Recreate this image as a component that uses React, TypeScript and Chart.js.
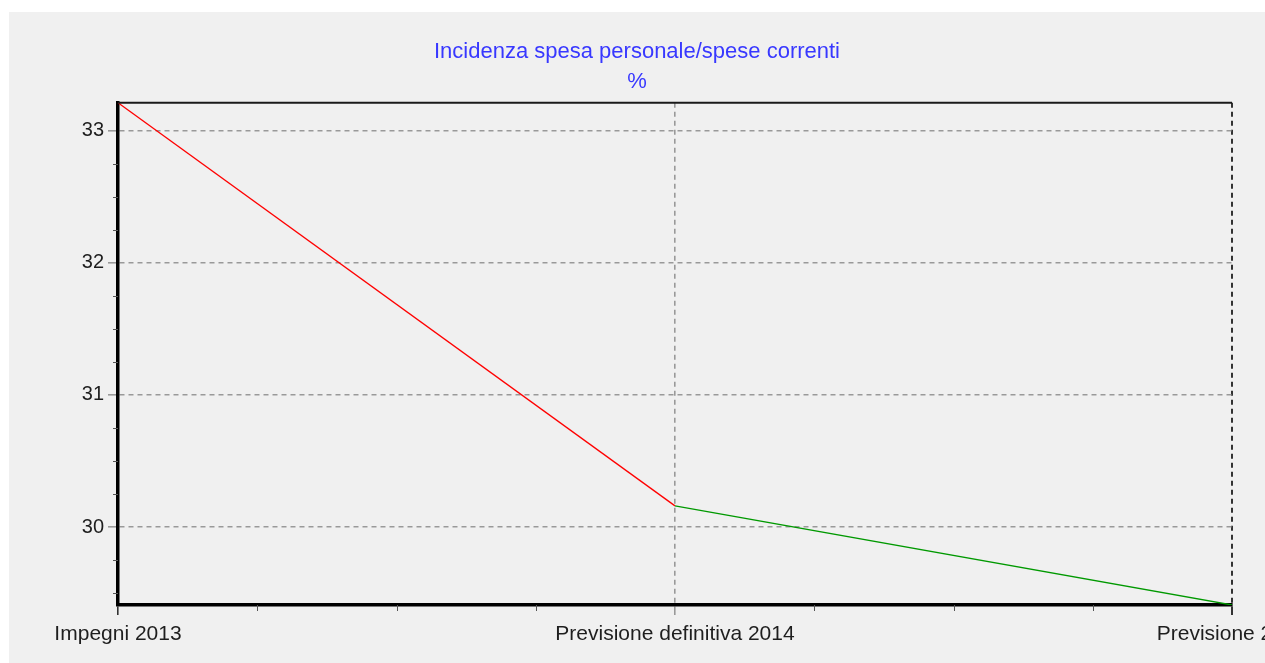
import React, { useEffect, useRef } from "react";
import { Chart, registerables } from "chart.js";

Chart.register(...registerables);

// ---- data ----
const CATEGORIES = ["Impegni 2013", "Previsione definitiva 2014", "Previsione 2015"];
const VALUES = [33.21, 30.16, 29.41];
const SEGMENT_COLORS = ["#ff0000", "#009900"];
const Y_MIN = 29.41;
const Y_MAX = 33.21;
const Y_STEP = 1;
const TITLE_LINES = ["Incidenza spesa personale/spese correnti", "%"];
const MINOR_DIVISIONS = 4;

const W = 1256;
const H = 651;
const FONT = "'Liberation Sans', Arial, sans-serif";

const framePlugin = {
  id: "frame",
  afterDraw(chart: any) {
    const { ctx, chartArea: a, scales } = chart;
    const xs = scales.x;
    const ys = scales.y;
    ctx.save();
    ctx.strokeStyle = "#555";
    ctx.lineWidth = 1;
    // y minor ticks
    const lo = Math.ceil((Y_MIN / Y_STEP) * MINOR_DIVISIONS);
    const hi = Math.floor((Y_MAX / Y_STEP) * MINOR_DIVISIONS);
    for (let k = lo; k <= hi; k++) {
      if (k % MINOR_DIVISIONS === 0) continue;
      const py = Math.round(ys.getPixelForValue((k / MINOR_DIVISIONS) * Y_STEP)) + 0.5;
      ctx.beginPath();
      ctx.moveTo(a.left - 5, py);
      ctx.lineTo(a.left, py);
      ctx.stroke();
    }
    // x minor ticks
    for (let i = 0; i < CATEGORIES.length - 1; i++) {
      for (let k = 1; k < MINOR_DIVISIONS; k++) {
        const px = Math.round(xs.getPixelForValue(i + k / MINOR_DIVISIONS)) + 0.5;
        ctx.beginPath();
        ctx.moveTo(px, a.bottom);
        ctx.lineTo(px, a.bottom + 6);
        ctx.stroke();
      }
    }
    // top frame line
    ctx.strokeStyle = "#1a1a1a";
    ctx.lineWidth = 2;
    ctx.beginPath();
    ctx.moveTo(a.left, a.top);
    ctx.lineTo(a.right, a.top);
    ctx.stroke();
    ctx.restore();
  },
};

export default function App() {
  const ref = useRef<HTMLCanvasElement | null>(null);

  useEffect(() => {
    if (!ref.current) return;
    const last = CATEGORIES.length - 1;
    const chart = new Chart(ref.current, {
      type: "line",
      data: {
        labels: CATEGORIES,
        datasets: [
          {
            data: VALUES,
            borderColor: SEGMENT_COLORS[0],
            borderWidth: 1.3,
            pointRadius: 0,
            tension: 0,
            fill: false,
            segment: {
              borderColor: (c: any) => SEGMENT_COLORS[c.p0DataIndex],
            },
          },
        ],
      },
      options: {
        responsive: false,
        animation: false,
        events: [],
        layout: { padding: 0 },
        plugins: {
          legend: { display: false },
          tooltip: { enabled: false },
          title: {
            display: true,
            text: TITLE_LINES,
            color: "#3838ff",
            font: { family: FONT, size: 22, weight: "normal", lineHeight: 1.36 },
            padding: { top: 25, bottom: 6 },
          },
        },
        scales: {
          x: {
            type: "category",
            offset: false,
            afterFit: (s: any) => {
              s.height = 58;
              s.paddingLeft = 0;
              s.paddingRight = 33;
            },
            grid: {
              display: true,
              drawOnChartArea: true,
              drawTicks: true,
              tickLength: 10,
              color: (c: any) => (c.index === last || c.index === 0 ? "#333333" : "#999999"),
              tickColor: (c: any) => (c.index === last || c.index === 0 ? "#333333" : "#999999"),
              lineWidth: (c: any) => (c.index === last ? 2 : 1.6),
            },
            border: { display: true, color: "#000000", width: 3.5, dash: [5, 4] },
            ticks: {
              autoSkip: false,
              maxRotation: 0,
              minRotation: 0,
              padding: 7,
              color: "#1e1e1e",
              font: { family: FONT, size: 21 },
            },
          },
          y: {
            type: "linear",
            min: Y_MIN,
            max: Y_MAX,
            afterBuildTicks: (s: any) => {
              s.ticks = s.ticks.filter((t: any) => Math.abs(t.value - Math.round(t.value)) < 1e-9);
            },
            afterFit: (s: any) => {
              s.width = 109;
              s.paddingTop = 0;
              s.paddingBottom = 0;
            },
            grid: {
              display: true,
              color: "#999999",
              tickColor: "#999999",
              lineWidth: 1.6,
              tickLength: 10,
            },
            border: { display: true, color: "#000000", width: 3.5, dash: [5, 4] },
            ticks: {
              stepSize: Y_STEP,
              padding: 4,
              color: "#1e1e1e",
              font: { family: FONT, size: 20 },
              callback: (v: any) => String(Math.round(Number(v))),
            },
          },
        },
      },
      plugins: [framePlugin],
    });
    return () => chart.destroy();
  }, []);

  return (
    <div
      style={{
        position: "absolute",
        left: 9,
        top: 12,
        width: W,
        height: H,
        background: "#f0f0f0",
        overflow: "hidden",
      }}
    >
      <canvas ref={ref} width={W} height={H} style={{ display: "block", width: W, height: H }} />
    </div>
  );
}
